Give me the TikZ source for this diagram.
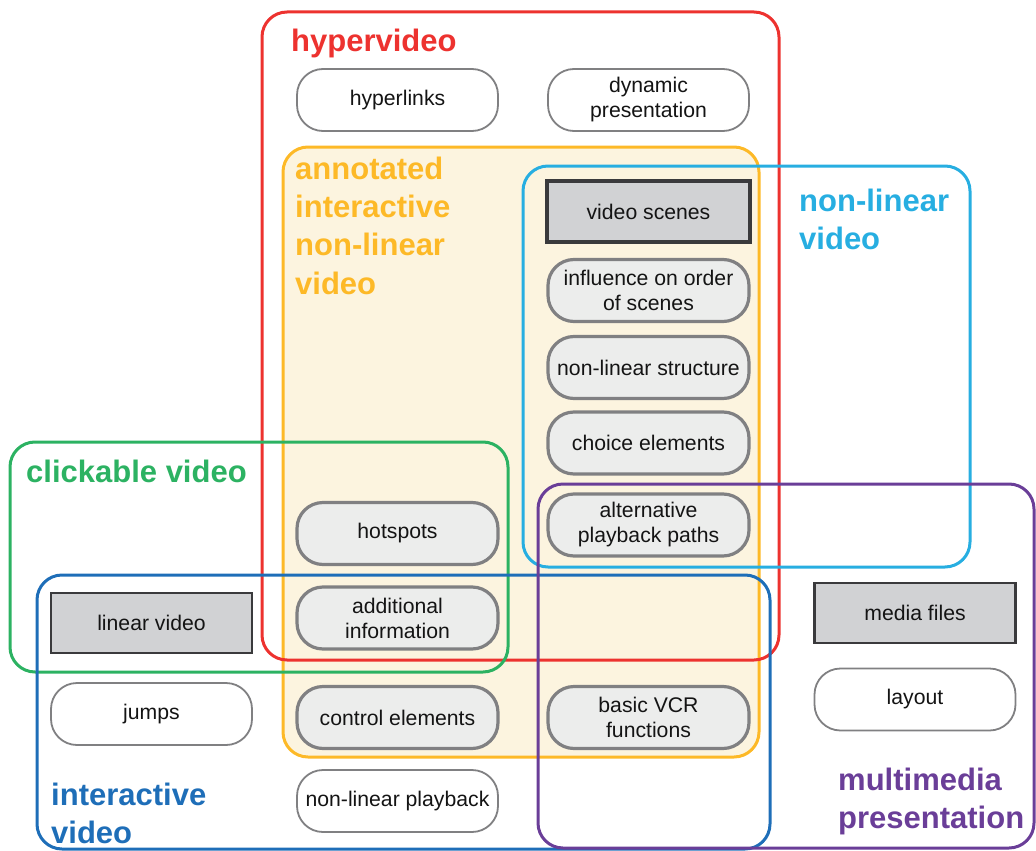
\documentclass[tikz,border=0pt]{standalone}
\usepackage{fontspec}
\setmainfont{Liberation Sans}
\begin{document}
\definecolor{hvred}{RGB}{237,50,47}
\definecolor{anyellow}{RGB}{253,185,39}
\definecolor{anfill}{RGB}{252,244,223}
\definecolor{nlcyan}{RGB}{39,174,225}
\definecolor{clgreen}{RGB}{44,178,98}
\definecolor{ivblue}{RGB}{30,110,184}
\definecolor{mmpurple}{RGB}{106,62,152}
\definecolor{itemfill}{RGB}{236,237,236}
\definecolor{itemline}{RGB}{128,128,130}
\definecolor{basefill}{RGB}{209,210,212}
\definecolor{baseline}{RGB}{58,58,60}
\definecolor{txt}{RGB}{20,20,20}
\begin{tikzpicture}[x=1pt,y=-1pt,
  group/.style={line width=3pt,rounded corners=25pt},
  grouplabel/.style={anchor=base west,inner sep=0pt,font=\fontsize{31}{38}\selectfont\bfseries,align=left},
  item/.style={text=txt,font=\fontsize{21.2}{25}\selectfont,align=center,inner sep=0pt,
    minimum width=201pt,minimum height=62pt,rounded corners=26pt},
  plainitem/.style={item,draw=itemline,fill=white,line width=1.8pt},
  featitem/.style={item,draw=itemline,fill=itemfill,line width=3.2pt},
  baseitem/.style={item,draw=baseline,fill=basefill,rounded corners=0pt,minimum height=60pt,line width=2.5pt},
]
\useasboundingbox (0,0) rectangle (1036,851);

% shaded area of annotated interactive non-linear video
\fill[anfill,rounded corners=25pt] (283,147) rectangle (759,757);

% category outlines
\draw[group,anyellow] (283,147) rectangle (759,757);
\draw[group,hvred] (262,12) rectangle (779,660);
\draw[group,nlcyan] (523,166) rectangle (970,567);
\draw[group,clgreen] (10,442) rectangle (508,672);
\draw[group,ivblue] (37,575) rectangle (770,849);
\draw[group,mmpurple] (538,484) rectangle (1034,848);

% category names
\node[grouplabel,text=hvred] (lhyper) at (291,52) {hypervideo};
\node[grouplabel,text=anyellow,anchor=north west] (lannot) at (295,156.5)
  {annotated\\[0.3pt]interactive\\[0.3pt]non-linear\\[0.3pt]video};
\node[grouplabel,text=nlcyan,anchor=north west] (lnonlin) at (799,188.5) {non-linear\\video};
\node[grouplabel,text=clgreen] (lclick) at (26,482) {clickable video};
\node[grouplabel,text=ivblue,anchor=north west] (linter) at (51,782.5) {interactive\\video};
\node[grouplabel,text=mmpurple,anchor=north west] (lmulti) at (838,767.5) {multimedia\\presentation};

% elements
\node[plainitem] (hyperlinks) at (397.5,100) {hyperlinks};
\node[plainitem] (dynpres) at (648.5,100) {dynamic\\presentation};
\node[baseitem,line width=3.5pt,minimum width=203pt,minimum height=61pt] (scenes) at (648.5,211.5) {video scenes};
\node[featitem] (order) at (648.5,290.5) {influence on order\\of scenes};
\node[featitem] (structure) at (648.5,367.5) {non-linear structure};
\node[featitem] (choice) at (648.5,443) {choice elements};
\node[featitem] (paths) at (648.5,525) {alternative\\playback paths};
\node[featitem] (hotspots) at (397.5,533.5) {hotspots};
\node[featitem] (addinfo) at (397.5,618) {additional\\information};
\node[baseitem] (linear) at (151.5,623) {linear video};
\node[plainitem] (jumps) at (151.5,714) {jumps};
\node[featitem] (control) at (397.5,717.5) {control elements};
\node[featitem] (vcr) at (648.5,717.5) {basic VCR\\functions};
\node[plainitem] (playback) at (397.5,801) {non-linear playback};
\node[baseitem] (media) at (915,613) {media files};
\node[plainitem] (layout) at (915,699.5) {layout};
\end{tikzpicture}
\end{document}
